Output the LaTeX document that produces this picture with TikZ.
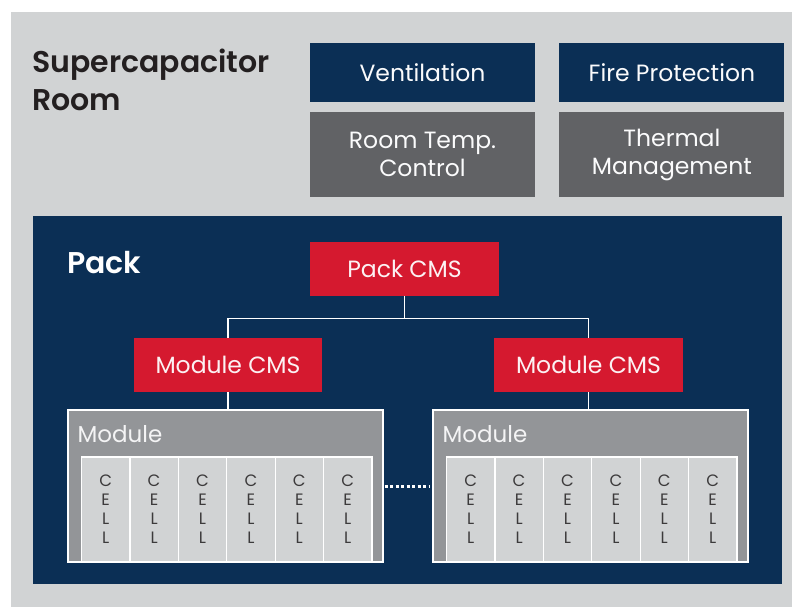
\documentclass[tikz,border=0pt]{standalone}
\usepackage{fontspec}
\setmainfont{Poppins}
\newfontfamily\headfont{Poppins}[UprightFont=* SemiBold]
\usetikzlibrary{positioning,calc}

\definecolor{roomgray}{HTML}{D1D3D4}
\definecolor{packnavy}{HTML}{0B2F55}
\definecolor{boxgray}{HTML}{616265}
\definecolor{cmsred}{HTML}{D5192F}
\definecolor{modgray}{HTML}{939598}
\definecolor{cellgray}{HTML}{D1D3D4}
\definecolor{headtext}{HTML}{231F20}
\definecolor{celltext}{HTML}{3C3A3B}

\tikzset{
  sysbox/.style={inner sep=0pt,minimum width=225pt,align=center,
    text=white!92!roomgray,font=\fontsize{23.5}{28}\selectfont},
  navybox/.style={sysbox,fill=packnavy,minimum height=59pt},
  graybox/.style={sysbox,fill=boxgray,minimum height=85pt},
  cmsbox/.style={inner sep=0pt,fill=cmsred,minimum height=54pt,
    text=white!94!cmsred,font=\fontsize{23.5}{26}\selectfont},
  modbox/.style={inner sep=0pt,fill=modgray,draw=white,line width=1.2pt,
    minimum width=315pt,minimum height=152pt},
  cellbox/.style={inner sep=0pt,fill=cellgray,draw=white,line width=1.2pt,
    minimum width=48.4pt,minimum height=105pt,align=center,
    text=celltext,font=\fontsize{16.5}{19}\selectfont},
  wire/.style={draw=white,line width=1.5pt},
  heading/.style={inner sep=0pt,font=\fontsize{30}{38}\selectfont\headfont}
}

\begin{document}
\begin{tikzpicture}[x=1pt,y=-1pt]
  \fill[white] (0,0) rectangle (792,607);
  \fill[roomgray] (11,12) rectangle (792,607);
  \useasboundingbox (0,0) rectangle (792,607);
  %
  \node[heading,anchor=base west,align=left,text=headtext] (room) at (32,111)
    {Supercapacitor\\Room};
  \node[navybox] (vent) at (422.5,72.5) {Ventilation};
  \node[navybox,right=24pt of vent] (fire) {Fire Protection};
  \node[graybox,below=10pt of vent] (temp) {Room Temp.\\Control};
  \node[graybox,below=10pt of fire] (therm) {Thermal\\Management};
  %
  \fill[packnavy] (33,216) rectangle (782,584);
  \node[heading,anchor=base west,text=white] (pack) at (67,273) {Pack};
  \node[cmsbox,minimum width=189pt] (pcms) at (404.5,268.5) {Pack CMS};
  \node[cmsbox,minimum width=188pt] (lcms) at (228,365) {Module CMS};
  \node[cmsbox,minimum width=189pt] (rcms) at (588.5,365) {Module CMS};
  %
  \node[modbox] (lmod) at (225.5,486) {};
  \node[modbox] (rmod) at (590.5,486) {};
  \foreach \m in {lmod,rmod} {
    \node[anchor=base west,inner sep=0pt,text=white!90!modgray,
      font=\fontsize{23}{26}\selectfont] at ($(\m.north west)+(10,33)$) {Module};
    \foreach \i in {0,...,5}
      \node[cellbox,anchor=south west] (\m-c\i)
        at ($(\m.south west)+(13.5+\i*48.4,0)$) {C\\E\\L\\L};
  }
  %
  \draw[wire] (pcms.south) -- ++(0,23) coordinate (j) -| (lcms.north);
  \draw[wire] (j) -| (rcms.north);
  \draw[wire] (lcms.south) -- (lcms.south |- lmod.north);
  \draw[wire] (rcms.south) -- (rcms.south |- rmod.north);
  \draw[white,line width=3pt,dash pattern=on 3pt off 2.5pt]
    ($(lmod.east)+(1,0)$) -- ($(rmod.west)+(-3,0)$);
\end{tikzpicture}
\end{document}
